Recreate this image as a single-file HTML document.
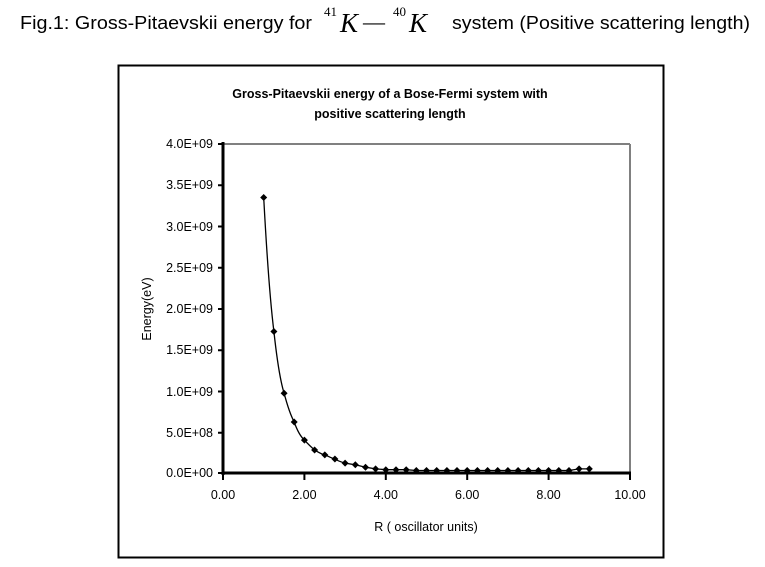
<!DOCTYPE html>
<html><head><meta charset="utf-8"><style>
html,body{margin:0;padding:0;background:#fff;width:765px;height:567px;overflow:hidden}
</style></head><body>
<svg width="765" height="567" xmlns="http://www.w3.org/2000/svg" xmlns:xlink="http://www.w3.org/1999/xlink" font-family="Liberation Sans, sans-serif">
<defs><path id="d" d="M0,-3.5 L3.5,0 L0,3.5 L-3.5,0Z" fill="#000"/></defs>
<rect width="765" height="567" fill="#fff"/>
<text x="20" y="29" font-size="18" textLength="292" lengthAdjust="spacingAndGlyphs" fill="#000">Fig.1: Gross-Pitaevskii energy for</text>
<text x="324" y="16" font-size="13" font-family="Liberation Serif, serif">41</text>
<text x="340" y="32" font-size="27" font-style="italic" font-family="Liberation Serif, serif">K</text>
<text x="363" y="29" font-size="22" font-family="Liberation Serif, serif">—</text>
<text x="393" y="16" font-size="13" font-family="Liberation Serif, serif">40</text>
<text x="409" y="32" font-size="27" font-style="italic" font-family="Liberation Serif, serif">K</text>
<text x="452" y="29" font-size="18" textLength="298" lengthAdjust="spacingAndGlyphs">system (Positive scattering length)</text>
<rect x="118.5" y="65.5" width="545" height="492" fill="none" stroke="#000" stroke-width="2"/>
<text x="390" y="98" font-size="12.5" font-weight="bold" text-anchor="middle">Gross-Pitaevskii energy of a Bose-Fermi system with</text>
<text x="390" y="118" font-size="12.5" font-weight="bold" text-anchor="middle">positive scattering length</text>
<line x1="223" y1="144" x2="630" y2="144" stroke="#808080" stroke-width="2"/>
<line x1="630" y1="144" x2="630" y2="473" stroke="#808080" stroke-width="2"/>
<line x1="223" y1="142" x2="223" y2="475" stroke="#000" stroke-width="3"/>
<line x1="222" y1="473" x2="631" y2="473" stroke="#000" stroke-width="3"/>
<g stroke="#000" stroke-width="2">
<line x1="218" y1="144" x2="223" y2="144"/><line x1="218" y1="185.25" x2="223" y2="185.25"/>
<line x1="218" y1="226.5" x2="223" y2="226.5"/><line x1="218" y1="267.75" x2="223" y2="267.75"/>
<line x1="218" y1="309" x2="223" y2="309"/><line x1="218" y1="350.25" x2="223" y2="350.25"/>
<line x1="218" y1="391.5" x2="223" y2="391.5"/><line x1="218" y1="432.75" x2="223" y2="432.75"/>
<line x1="218" y1="473" x2="223" y2="473"/>
<line x1="223" y1="473" x2="223" y2="480"/><line x1="304.4" y1="473" x2="304.4" y2="480"/>
<line x1="385.8" y1="473" x2="385.8" y2="480"/><line x1="467.2" y1="473" x2="467.2" y2="480"/>
<line x1="548.6" y1="473" x2="548.6" y2="480"/><line x1="630" y1="473" x2="630" y2="480"/>
</g>
<g font-size="12.5" text-anchor="end">
<text x="213" y="148">4.0E+09</text><text x="213" y="189">3.5E+09</text>
<text x="213" y="231">3.0E+09</text><text x="213" y="272">2.5E+09</text>
<text x="213" y="313">2.0E+09</text><text x="213" y="354">1.5E+09</text>
<text x="213" y="396">1.0E+09</text><text x="213" y="437">5.0E+08</text>
<text x="213" y="477">0.0E+00</text>
</g>
<g font-size="12.5" text-anchor="middle">
<text x="223" y="499">0.00</text><text x="304.4" y="499">2.00</text>
<text x="385.8" y="499">4.00</text><text x="467.2" y="499">6.00</text>
<text x="548.6" y="499">8.00</text><text x="630" y="499">10.00</text>
<text x="426" y="531">R ( oscillator units)</text>
</g>
<text transform="translate(151,309) rotate(-90)" font-size="12.5" text-anchor="middle">Energy(eV)</text>
<path d="M263.7,197.5 C266,240 270,300 273.9,331.5 C277,360 280,380 284.1,393.2 C288,408 291,416 294.2,422 C297,430 300,436 304.4,440.1 C308,444 311,447 314.6,450 C318,452 321,454 324.8,454.9 C328,456 331,458 334.9,459 C338,461 341,462 345.1,463.1 L355.3,464.8 L365.5,467.2 L375.6,468.9 L385.8,469.7 L406.2,469.7 L416.3,470.5 L569,470.5 L579.1,468.9 L589.3,468.9" fill="none" stroke="#000" stroke-width="1.3"/>
<g>
<use xlink:href="#d" x="263.7" y="197.5"/><use xlink:href="#d" x="273.9" y="331.5"/>
<use xlink:href="#d" x="284.1" y="393.2"/><use xlink:href="#d" x="294.2" y="422"/>
<use xlink:href="#d" x="304.4" y="440.1"/><use xlink:href="#d" x="314.6" y="450"/>
<use xlink:href="#d" x="324.8" y="454.9"/><use xlink:href="#d" x="334.9" y="459"/>
<use xlink:href="#d" x="345.1" y="463.1"/><use xlink:href="#d" x="355.3" y="464.8"/>
<use xlink:href="#d" x="365.5" y="467.2"/><use xlink:href="#d" x="375.6" y="468.9"/>
<use xlink:href="#d" x="385.8" y="469.7"/><use xlink:href="#d" x="396" y="469.7"/>
<use xlink:href="#d" x="406.2" y="469.7"/><use xlink:href="#d" x="416.3" y="470.5"/>
<use xlink:href="#d" x="426.5" y="470.5"/><use xlink:href="#d" x="436.7" y="470.5"/>
<use xlink:href="#d" x="446.9" y="470.5"/><use xlink:href="#d" x="457" y="470.5"/>
<use xlink:href="#d" x="467.2" y="470.5"/><use xlink:href="#d" x="477.4" y="470.5"/>
<use xlink:href="#d" x="487.6" y="470.5"/><use xlink:href="#d" x="497.7" y="470.5"/>
<use xlink:href="#d" x="507.9" y="470.5"/><use xlink:href="#d" x="518.1" y="470.5"/>
<use xlink:href="#d" x="528.3" y="470.5"/><use xlink:href="#d" x="538.4" y="470.5"/>
<use xlink:href="#d" x="548.6" y="470.5"/><use xlink:href="#d" x="558.8" y="470.5"/>
<use xlink:href="#d" x="569" y="470.5"/><use xlink:href="#d" x="579.1" y="468.9"/>
<use xlink:href="#d" x="589.3" y="468.9"/>
</g>
</svg>
</body></html>
